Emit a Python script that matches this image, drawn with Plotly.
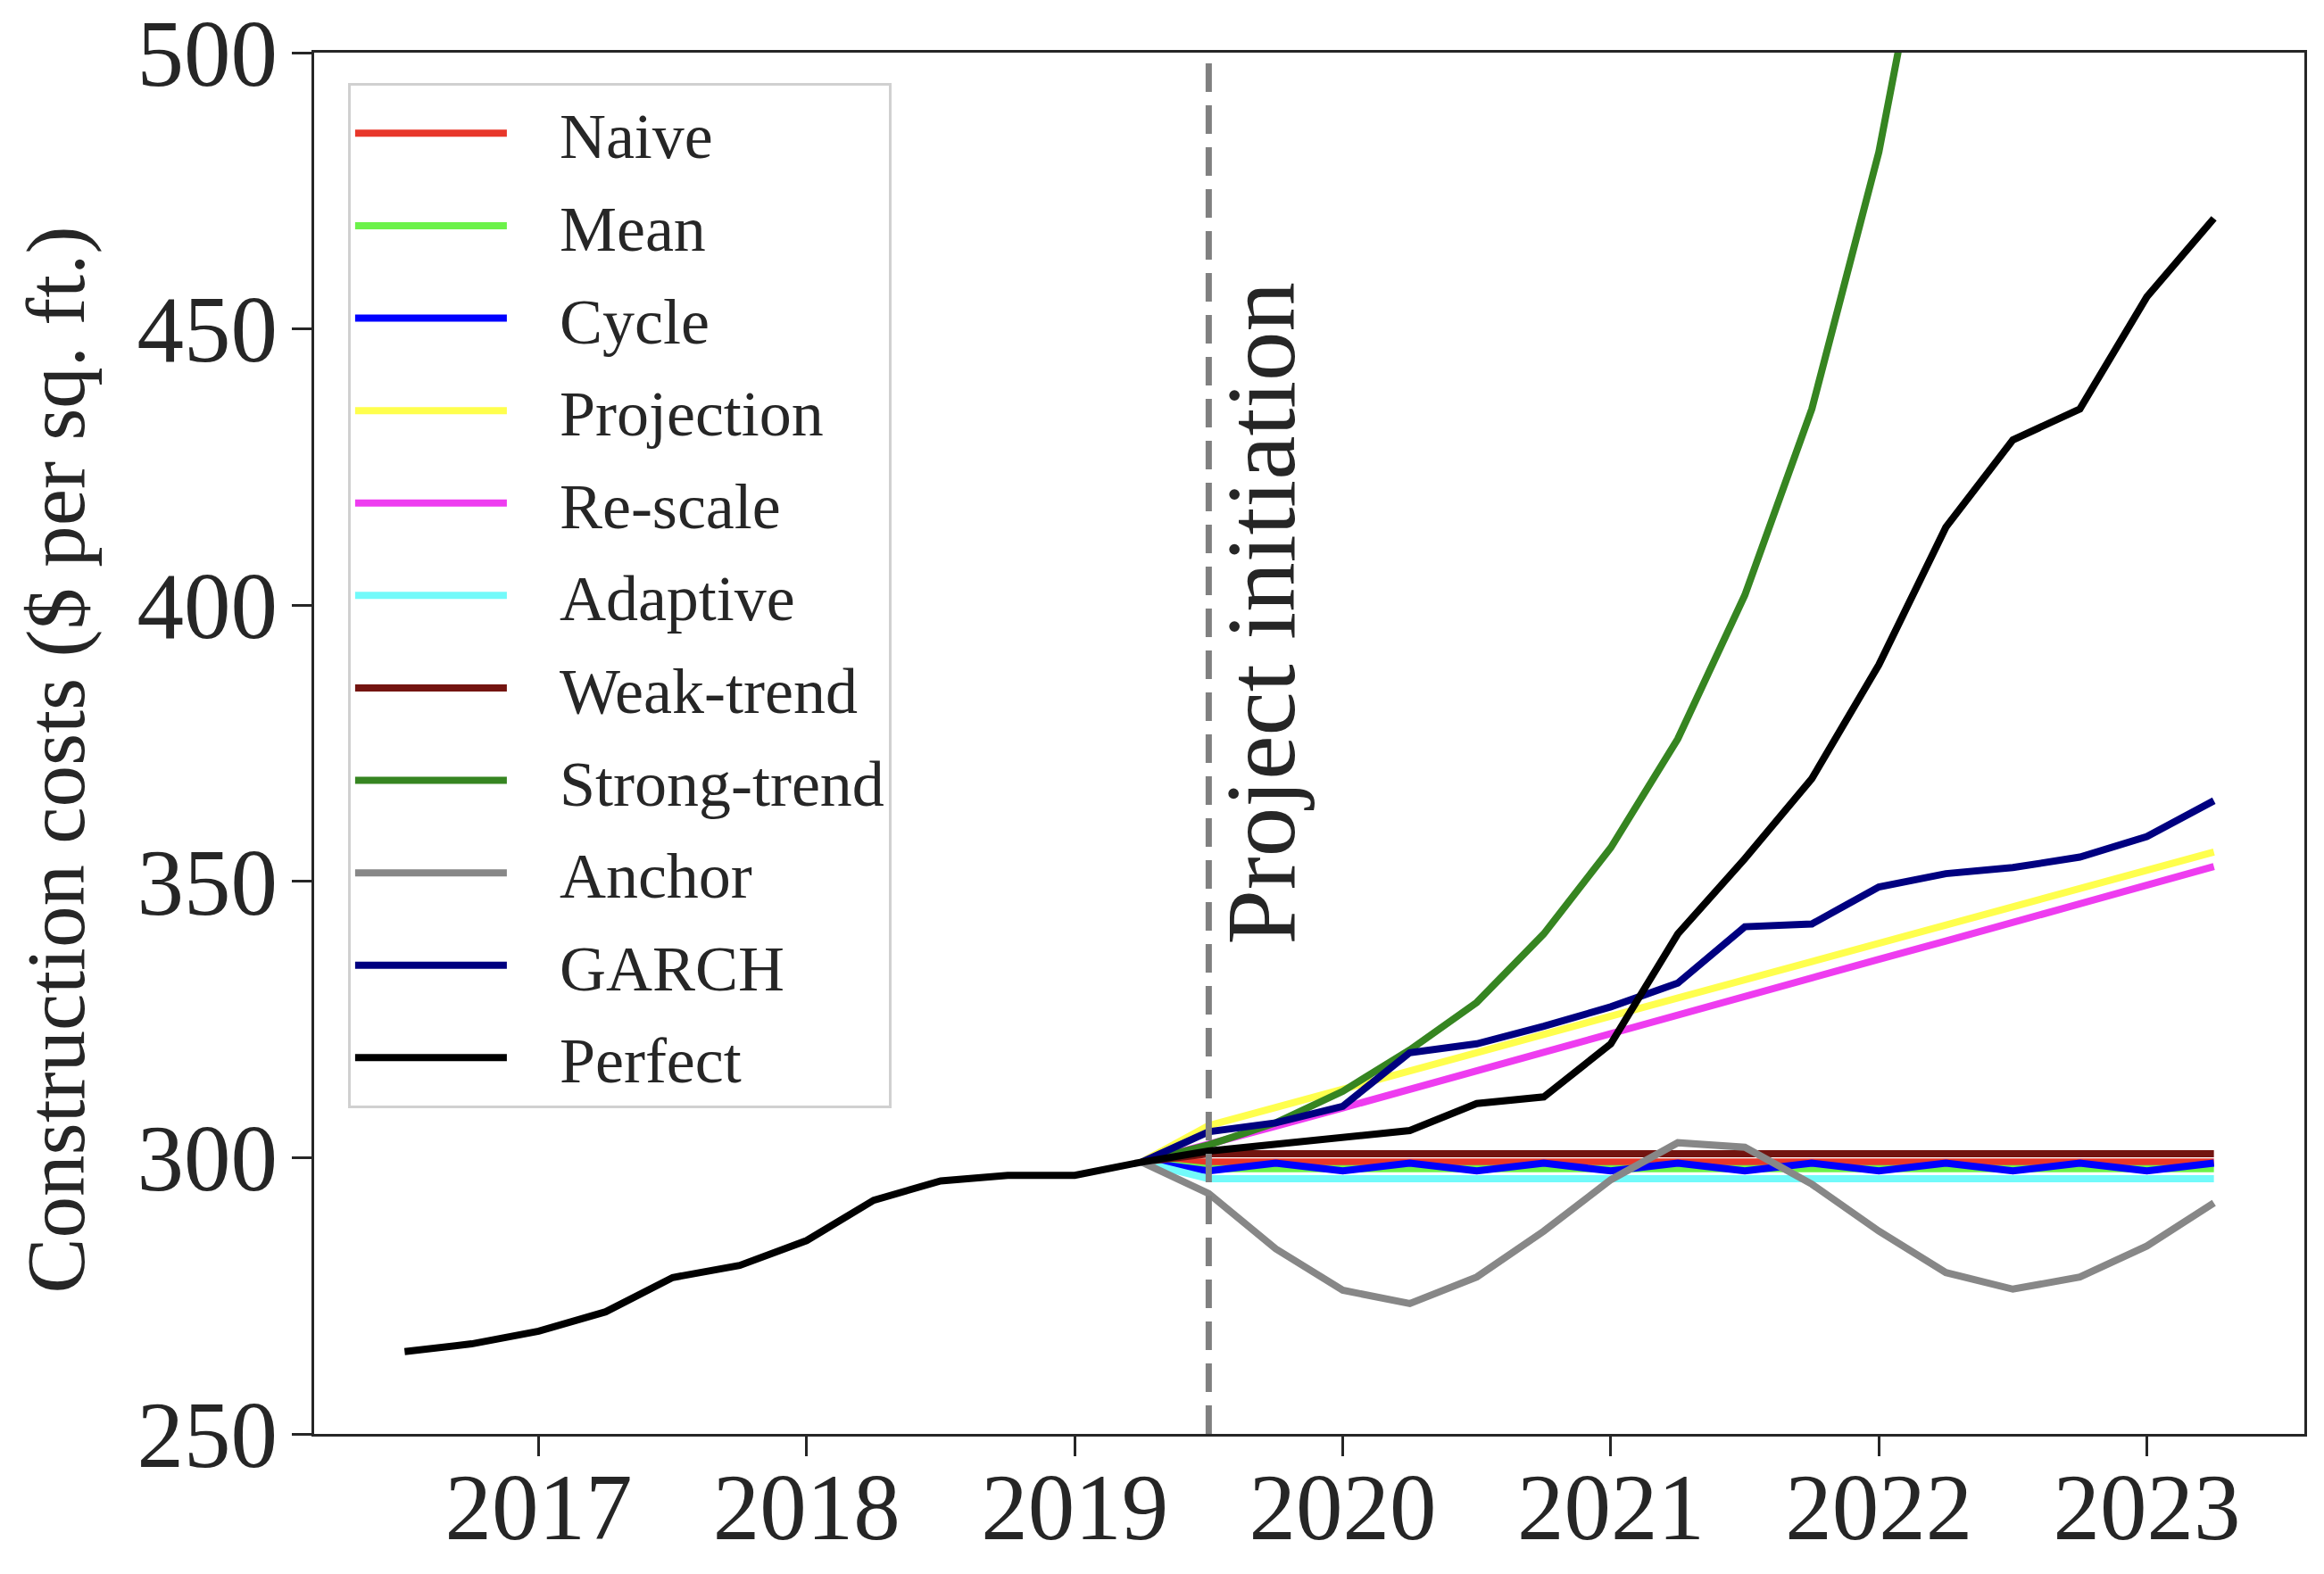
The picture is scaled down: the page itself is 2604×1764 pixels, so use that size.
import plotly.graph_objects as go

# ---------------- data ----------------
hist_x = [2016.5, 2016.75, 2017.0, 2017.25, 2017.5, 2017.75, 2018.0, 2018.25,
          2018.5, 2018.75, 2019.0, 2019.25, 2019.5, 2019.75, 2020.0, 2020.25,
          2020.5, 2020.75, 2021.0, 2021.25, 2021.5, 2021.75, 2022.0, 2022.25,
          2022.5, 2022.75, 2023.0, 2023.25]
perfect = [264.9, 266.3, 268.6, 272.1, 278.3, 280.5, 285.0, 292.3,
           295.8, 296.8, 296.8, 299.2, 301.2, 302.5, 303.6, 304.9,
           309.8, 311.0, 320.6, 340.5, 354.1, 368.6, 389.2, 414.1,
           429.9, 435.5, 455.8, 470.0]

fc_x = [2019.25, 2019.5, 2019.75, 2020.0, 2020.25, 2020.5, 2020.75, 2021.0,
        2021.25, 2021.5, 2021.75, 2022.0, 2022.25, 2022.5, 2022.75, 2023.0,
        2023.25]
naive = [299.2, 299.2, 299.2, 299.2, 299.2, 299.2, 299.2, 299.2, 299.2,
         299.2, 299.2, 299.2, 299.2, 299.2, 299.2, 299.2, 299.2]
mean = [299.2, 298.0, 298.0, 298.0, 298.0, 298.0, 298.0, 298.0, 298.0,
        298.0, 298.0, 298.0, 298.0, 298.0, 298.0, 298.0, 298.0]
cycle = [299.2, 297.6, 299.0, 297.6, 299.0, 297.6, 299.0, 297.6, 299.0,
         297.6, 299.0, 297.6, 299.0, 297.6, 299.0, 297.6, 299.0]
projection = [299.2, 305.8, 309.1, 312.4, 315.7, 319.0, 322.3, 325.6, 328.9,
              332.2, 335.5, 338.8, 342.1, 345.4, 348.7, 352.0, 355.3]
rescale = [299.2, 302.3, 305.7, 309.0, 312.4, 315.7, 319.1, 322.5, 325.8,
           329.2, 332.5, 335.9, 339.2, 342.6, 345.9, 349.3, 352.7]
adaptive = [299.2, 296.2, 296.2, 296.2, 296.2, 296.2, 296.2, 296.2, 296.2,
            296.2, 296.2, 296.2, 296.2, 296.2, 296.2, 296.2, 296.2]
weak_trend = [299.2, 300.7, 300.7, 300.7, 300.7, 300.7, 300.7, 300.7, 300.7,
              300.7, 300.7, 300.7, 300.7, 300.7, 300.7, 300.7, 300.7]
strong_trend = [299.2, 302.3, 306.3, 312.0, 319.5, 328.1, 340.5, 356.1, 375.8,
                401.8, 435.5, 482.0, 545.0, 615.0, 700.0, 810.0, 940.0]
anchor = [299.2, 293.5, 283.5, 276.0, 273.6, 278.4, 286.7, 296.0, 302.7,
          301.9, 295.2, 286.7, 279.2, 276.2, 278.4, 284.0, 291.8]
garch = [299.2, 304.7, 306.3, 309.3, 319.0, 320.6, 323.8, 327.3, 331.6,
         341.8, 342.3, 349.0, 351.4, 352.5, 354.4, 358.1, 364.6]

initiation_x = 2019.5
initiation_label = "Project initiation"
initiation_label_y = 398.5

x_ticks = [2017, 2018, 2019, 2020, 2021, 2022, 2023]
y_ticks = [250, 300, 350, 400, 450, 500]

series = [
    ("Naive", fc_x, naive, "#e8372a"),
    ("Mean", fc_x, mean, "#6cf24a"),
    ("Cycle", fc_x, cycle, "#0000ff"),
    ("Projection", fc_x, projection, "#ffff4d"),
    ("Re-scale", fc_x, rescale, "#ee3cf0"),
    ("Adaptive", fc_x, adaptive, "#72fafa"),
    ("Weak-trend", fc_x, weak_trend, "#731410"),
    ("Strong-trend", fc_x, strong_trend, "#368521"),
    ("Anchor", fc_x, anchor, "#878787"),
    ("GARCH", fc_x, garch, "#000080"),
    ("Perfect", hist_x, perfect, "#000000"),
]

FONT = "Liberation Serif, Times New Roman, serif"
AX = "#262626"
GAP = "\u00a0\u00a0\u00a0"

fig = go.Figure()
for name, xs, ys, col in series:
    fig.add_trace(go.Scatter(x=xs, y=ys, mode="lines", name=GAP + name,
                             legendgroup=name,
                             line=dict(color=col, width=8)))

fig.add_shape(type="line", xref="x", yref="paper", x0=initiation_x, x1=initiation_x,
              y0=0, y1=1, line=dict(color="#808080", width=7, dash="32px,15px"),
              layer="above")
fig.add_annotation(x=initiation_x, y=initiation_label_y, xref="x", yref="y",
                   text=initiation_label, textangle=-90, showarrow=False,
                   xanchor="center", yanchor="middle",
                   xshift=58, font=dict(family=FONT, size=111, color=AX))
fig.add_annotation(x=-0.1296, y=0.488, xref="paper", yref="paper",
                   text="Construction costs ($ per sq. ft.)", textangle=-90,
                   xanchor="center", yanchor="middle",
                   showarrow=False, font=dict(family=FONT, size=93, color=AX))

axis_common = dict(showline=True, linewidth=3, linecolor=AX, mirror=True,
                   ticks="outside", ticklen=22, tickwidth=3, tickcolor=AX,
                   showgrid=False, zeroline=False,
                   tickfont=dict(family=FONT, size=105, color=AX))
fig.update_xaxes(range=[2016.1625, 2023.5875], tickvals=x_ticks,
                 ticktext=[str(t) for t in x_ticks], ticklabelstandoff=-33,
                 **axis_common)
fig.update_yaxes(range=[250, 500], tickvals=y_ticks, ticklabelstandoff=-5,
                 **axis_common)

fig.update_layout(
    width=2604, height=1764,
    margin=dict(l=352, r=22, t=59, b=157, autoexpand=False),
    plot_bgcolor="white", paper_bgcolor="white",
    showlegend=True,
    legend=dict(x=0.017, y=0.978, xanchor="left", yanchor="top",
                font=dict(family=FONT, size=72, color=AX),
                bgcolor="rgba(255,255,255,0.85)", bordercolor="#d0d0d0",
                borderwidth=3, itemwidth=170, tracegroupgap=7,
                traceorder="grouped"),
)

fig.write_html("out.html", config={"displayModeBar": False},
               post_script="document.body.style.margin='0px';document.body.style.overflow='hidden';")
